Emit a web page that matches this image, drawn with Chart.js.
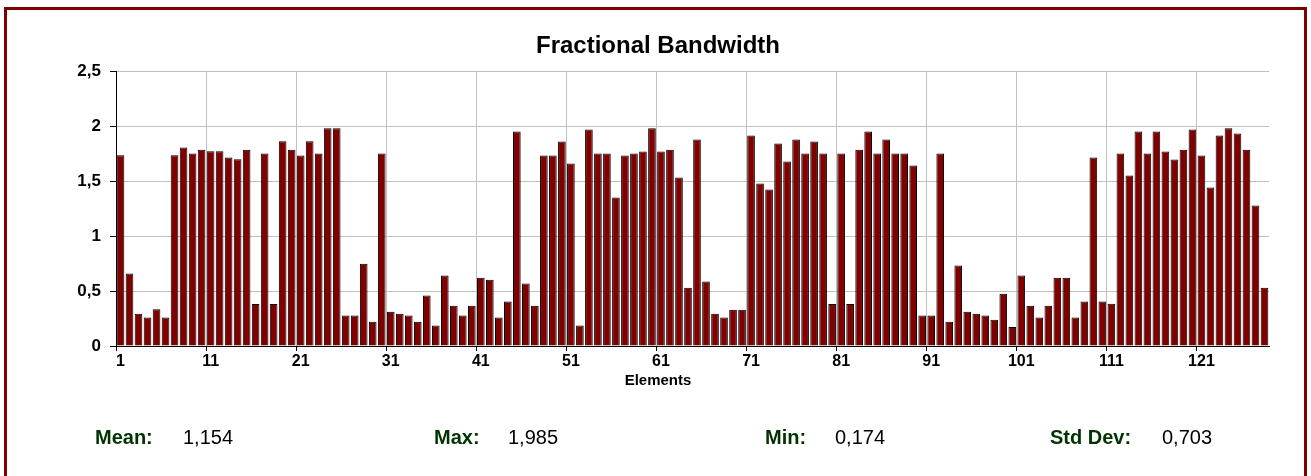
<!DOCTYPE html>
<html>
<head>
<meta charset="utf-8">
<script src="https://cdn.jsdelivr.net/npm/chart.js@4.4.0/dist/chart.umd.min.js"></script>
<style>
  body { margin: 0; background: #fff; }
  #wrap { position: relative; width: 1311px; height: 476px; overflow: hidden; font-family: "Liberation Sans", Arial, sans-serif; }
  #chart { position: absolute; left: 0; top: 0; }
  #frame { position: absolute; left: 4px; top: 7px; width: 1303px; height: 520px; border: 3px solid #800000; box-sizing: border-box; pointer-events: none; }
  .stat { position: absolute; top: 427px; font-size: 20px; line-height: 20px; white-space: nowrap; color: #000; }
  .stat.lbl { font-weight: bold; color: #003300; }
</style>
</head>
<body>
<div id="wrap">
  <canvas id="chart" width="1311" height="476"></canvas>
  <div id="frame"></div>
</div>
<script>
const elementCount = 128;
const elements = [];
for (let i = 1; i <= elementCount; i++) elements.push(String(i));

// fractional bandwidth per element
const bandwidth = [
  1.74, 0.66, 0.295, 0.26, 0.335, 0.26, 1.74, 1.81, 1.755, 1.79,
  1.776, 1.776, 1.718, 1.703, 1.79, 0.383, 1.755, 0.383, 1.867, 1.79,
  1.737, 1.867, 1.755, 1.985, 1.985, 0.277, 0.277, 0.75, 0.222, 1.755,
  0.313, 0.295, 0.277, 0.222, 0.46, 0.186, 0.642, 0.368, 0.277, 0.368,
  0.623, 0.605, 0.26, 0.405, 1.956, 0.569, 0.368, 1.737, 1.737, 1.864,
  1.664, 0.186, 1.974, 1.755, 1.755, 1.353, 1.737, 1.755, 1.773, 1.985,
  1.773, 1.79, 1.536, 0.532, 1.883, 0.587, 0.295, 0.26, 0.33, 0.33,
  1.919, 1.481, 1.426, 1.846, 1.682, 1.883, 1.755, 1.864, 1.755, 0.383,
  1.755, 0.383, 1.79, 1.956, 1.755, 1.883, 1.755, 1.755, 1.645, 0.277,
  0.277, 1.755, 0.222, 0.733, 0.313, 0.295, 0.277, 0.24, 0.477, 0.174,
  0.642, 0.368, 0.26, 0.368, 0.623, 0.623, 0.26, 0.405, 1.718, 0.405,
  0.386, 1.755, 1.554, 1.956, 1.755, 1.956, 1.773, 1.70, 1.79, 1.974,
  1.737, 1.445, 1.919, 1.985, 1.937, 1.79, 1.28, 0.532
];

const statLabels = ['Mean:', 'Max:', 'Min:', 'Std Dev:'];
const statValues = ['1,154', '1,985', '0,174', '0,703'];

const fontFamily = '"Liberation Sans", Arial, sans-serif';
const barColor = '#800000';
const gridColor = '#c0c0c0';

// stats row under the chart
const labelLeft = [95, 434, 765, 1050];
const valueLeft = [183, 508, 835, 1162];
const wrap = document.getElementById('wrap');
statLabels.forEach((txt, i) => {
  const l = document.createElement('div');
  l.className = 'stat lbl';
  l.style.left = labelLeft[i] + 'px';
  l.textContent = txt;
  wrap.appendChild(l);
  const v = document.createElement('div');
  v.className = 'stat';
  v.style.left = valueLeft[i] + 'px';
  v.textContent = statValues[i];
  wrap.appendChild(v);
});

const everyTenth = (c, on) => (c.index !== undefined && c.index % 10 === 0) ? on : 'rgba(0,0,0,0)';

new Chart(document.getElementById('chart'), {
  type: 'bar',
  data: {
    labels: elements,
    datasets: [{
      data: bandwidth,
      backgroundColor: barColor,
      borderColor: '#000',
      borderWidth: 1,
      barPercentage: 0.85,
      categoryPercentage: 1
    }]
  },
  options: {
    responsive: false,
    animation: false,
    layout: { padding: { left: 47, right: 42, top: 0, bottom: 86 } },
    plugins: {
      legend: { display: false },
      tooltip: { enabled: false },
      title: {
        display: true,
        text: 'Fractional Bandwidth',
        color: '#000',
        font: { family: fontFamily, size: 24, weight: 'bold' },
        padding: { top: 32, bottom: 11 }
      },
      subtitle: {
        display: true,
        position: 'bottom',
        text: 'Elements',
        color: '#000',
        font: { family: fontFamily, size: 15, weight: 'bold' },
        padding: { top: 4, bottom: 0 }
      }
    },
    scales: {
      x: {
        offset: true,
        grid: {
          offset: true,
          color: c => everyTenth(c, gridColor),
          tickColor: c => everyTenth(c, '#000'),
          tickLength: 5
        },
        border: { color: '#000', width: 1 },
        ticks: {
          autoSkip: false,
          maxRotation: 0,
          padding: 1,
          color: '#000',
          font: { family: fontFamily, size: 16, weight: 'bold' },
          callback: (v, i) => i % 10 === 0 ? elements[i] : ''
        },
        afterFit: s => { s.height = 22; }
      },
      y: {
        min: 0,
        max: 2.5,
        ticks: {
          stepSize: 0.5,
          padding: 9,
          color: '#000',
          font: { family: fontFamily, size: 17, weight: 'bold' },
          callback: v => String(v).replace('.', ',')
        },
        grid: { color: gridColor, tickColor: '#000', tickLength: 6 },
        border: { color: '#000', width: 1 },
        afterFit: s => { s.width = 69; }
      }
    }
  }
});
</script>
</body>
</html>
